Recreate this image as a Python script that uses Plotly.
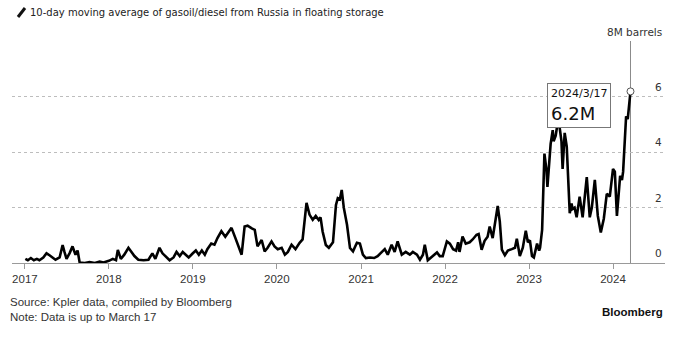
import plotly.graph_objects as go

# 10-day moving average of Russian gasoil/diesel held in floating storage (million barrels)
dates = [
    "2017-01-03", "2017-01-14", "2017-01-27", "2017-02-09", "2017-02-22", "2017-03-05",
    "2017-03-22", "2017-04-05", "2017-04-18", "2017-05-01", "2017-05-14", "2017-06-01",
    "2017-06-14", "2017-06-22", "2017-07-01", "2017-07-14", "2017-07-27", "2017-08-09",
    "2017-08-18", "2017-08-27", "2017-09-18", "2017-10-09", "2017-11-01", "2017-11-22",
    "2017-12-09",
    "2018-01-01", "2018-01-18", "2018-02-01", "2018-02-09", "2018-02-22", "2018-03-09",
    "2018-03-27", "2018-04-09", "2018-04-22", "2018-05-09", "2018-06-01", "2018-06-22",
    "2018-07-09", "2018-07-22", "2018-08-09", "2018-08-22", "2018-09-05", "2018-09-22",
    "2018-10-09", "2018-10-22", "2018-11-05", "2018-11-18", "2018-12-01", "2018-12-14",
    "2019-01-01", "2019-01-14", "2019-01-27", "2019-02-09", "2019-02-22", "2019-03-05",
    "2019-03-22", "2019-04-05", "2019-04-18", "2019-05-05", "2019-05-22", "2019-06-05",
    "2019-06-18", "2019-07-05", "2019-07-18", "2019-08-01", "2019-08-14", "2019-08-27",
    "2019-09-14", "2019-09-27", "2019-10-09", "2019-10-27", "2019-11-09", "2019-11-22",
    "2019-12-09", "2019-12-22",
    "2020-01-05", "2020-01-22", "2020-02-05", "2020-02-18", "2020-03-05", "2020-03-22",
    "2020-04-09", "2020-04-22", "2020-05-09", "2020-05-22", "2020-06-05", "2020-06-18",
    "2020-07-01", "2020-07-09", "2020-07-18", "2020-08-01", "2020-08-14", "2020-09-01",
    "2020-09-14", "2020-09-22", "2020-10-01", "2020-10-09", "2020-10-18", "2020-11-01",
    "2020-11-14", "2020-11-27", "2020-12-14", "2020-12-27",
    "2021-01-09", "2021-01-22", "2021-02-09", "2021-02-27", "2021-03-14", "2021-03-27",
    "2021-04-14", "2021-04-27", "2021-05-14", "2021-05-27", "2021-06-09", "2021-06-27",
    "2021-07-14", "2021-08-01", "2021-08-14", "2021-09-01", "2021-09-14", "2021-09-27",
    "2021-10-05", "2021-10-18", "2021-11-09", "2021-11-27", "2021-12-09", "2021-12-22",
    "2022-01-09", "2022-01-22", "2022-02-05", "2022-02-18", "2022-02-27", "2022-03-05",
    "2022-03-18", "2022-04-01", "2022-04-18", "2022-05-01", "2022-05-18", "2022-05-27",
    "2022-06-09", "2022-06-22", "2022-07-05", "2022-07-14", "2022-07-27", "2022-08-05",
    "2022-08-18", "2022-08-27", "2022-09-05", "2022-09-18", "2022-10-01", "2022-10-18",
    "2022-11-01", "2022-11-09", "2022-11-22", "2022-12-05", "2022-12-18", "2022-12-27",
    "2023-01-05", "2023-01-14", "2023-01-22", "2023-02-05", "2023-02-14", "2023-02-18",
    "2023-02-27", "2023-03-09", "2023-03-18", "2023-03-22", "2023-04-05", "2023-04-14",
    "2023-04-18", "2023-04-27", "2023-05-05", "2023-05-14", "2023-05-22", "2023-05-27",
    "2023-06-05", "2023-06-14", "2023-06-22", "2023-06-27", "2023-07-05", "2023-07-09",
    "2023-07-18", "2023-07-27", "2023-08-09", "2023-08-22", "2023-09-09", "2023-09-22",
    "2023-10-01", "2023-10-14", "2023-10-27", "2023-11-09", "2023-11-22", "2023-12-05",
    "2023-12-18",
    "2024-01-01", "2024-01-09", "2024-01-18", "2024-02-01", "2024-02-09", "2024-02-14",
    "2024-02-22", "2024-02-27", "2024-03-05", "2024-03-10", "2024-03-17",
]
values = [
    0.15, 0.10, 0.18, 0.10, 0.15, 0.10,
    0.20, 0.35, 0.28, 0.20, 0.12, 0.20,
    0.65, 0.40, 0.15, 0.35, 0.60, 0.30,
    0.45, 0.02, 0.00, 0.03, 0.00, 0.05,
    0.02,
    0.08, 0.15, 0.10, 0.47, 0.15, 0.30,
    0.55, 0.40, 0.25, 0.12, 0.10, 0.12,
    0.35, 0.15, 0.55, 0.35, 0.25, 0.10,
    0.20, 0.40, 0.25, 0.40, 0.30, 0.20,
    0.35, 0.45, 0.30, 0.45, 0.30, 0.50,
    0.70, 0.66, 0.90, 1.15, 0.95, 1.10,
    1.27, 0.90, 0.60, 0.30, 1.32, 1.35,
    1.25, 1.20, 0.60, 0.83, 0.42, 0.55,
    0.78, 0.60,
    0.50, 0.55, 0.30, 0.40, 0.66, 0.50,
    0.73, 0.85, 2.17, 1.75, 1.56, 1.70,
    1.55, 1.65, 1.14, 0.65, 0.55, 0.75,
    2.10, 2.34, 2.30, 2.64, 2.00, 1.38,
    0.54, 0.42, 0.73, 0.70,
    0.30, 0.18, 0.20, 0.18, 0.25, 0.35,
    0.50, 0.30, 0.66, 0.40, 0.78, 0.30,
    0.40, 0.30, 0.40, 0.30, 0.12, 0.30,
    0.66, 0.10, 0.25, 0.38, 0.25, 0.25,
    0.78, 0.70, 0.50, 0.45, 0.75, 0.40,
    0.96, 0.70, 0.75, 0.85, 1.02, 1.05,
    0.48, 0.80, 0.95, 1.32, 0.90, 1.40,
    2.06, 1.50, 0.48, 0.28, 0.45, 0.50,
    0.55, 0.88, 0.25, 0.55, 1.17, 0.75,
    0.82, 0.25, 0.20, 0.70, 0.45, 0.55,
    1.20, 3.95, 3.35, 2.75, 4.30, 4.80,
    4.40, 4.60, 5.05, 4.90, 4.40, 3.40,
    4.70, 4.20, 3.00, 1.80, 2.15, 1.95,
    2.00, 1.65, 2.40, 1.65, 3.10, 1.65,
    2.00, 3.00, 1.70, 1.10, 1.60, 2.50,
    2.40,
    3.40, 3.30, 1.70, 3.15, 3.00, 3.30,
    4.55, 5.30, 5.20, 5.60, 6.20,
]

year_ticks = ["2017-01-01", "2018-01-01", "2019-01-01", "2020-01-01",
              "2021-01-01", "2022-01-01", "2023-01-01", "2024-01-01"]
year_labels = ["2017", "2018", "2019", "2020", "2021", "2022", "2023", "2024"]

y_ticks = [0, 2, 4, 6, 8]
y_labels = ["0", "2", "4", "6", "8M barrels"]

title_text = "10-day moving average of gasoil/diesel from Russia in floating storage"
source_text = "Source: Kpler data, compiled by Bloomberg"
note_text = "Note: Data is up to March 17"

last_date = dates[-1]
last_value = values[-1]
yy, mm, dd = last_date.split("-")
callout_date = f"{int(yy)}/{int(mm)}/{int(dd)}"
callout_value = f"{last_value:.1f}M"

W, H = 682, 337
L, R, T, B = 12, 17, 41, 74
PW, PH = W - L - R, H - T - B


def px_x(px):
    return (px - L) / PW


def px_y(py):
    return (H - B - py) / PH


fig = go.Figure()

fig.add_trace(go.Scatter(
    x=dates, y=values, mode="lines",
    line=dict(color="#000000", width=2.6),
    hoverinfo="skip", showlegend=False,
))

# marker on the latest reading
fig.add_trace(go.Scatter(
    x=[last_date], y=[last_value], mode="markers",
    marker=dict(size=7, color="white", line=dict(color="#555555", width=1)),
    hoverinfo="skip", showlegend=False,
))

grey_text = "#333333"
sans = "DejaVu Sans, Verdana, sans-serif"
arial = "Liberation Sans, Arial, sans-serif"

fig.update_layout(
    width=W, height=H,
    margin=dict(l=L, r=R, t=T, b=B, pad=0),
    paper_bgcolor="white", plot_bgcolor="white",
    xaxis=dict(
        type="date",
        range=["2016-11-06", "2024-08-14"],
        tickmode="array", tickvals=year_ticks, ticktext=year_labels,
        ticks="outside", ticklen=5, tickcolor="#9a9a9a", tickwidth=1,
        showline=True, linecolor="#9a9a9a", linewidth=1,
        showgrid=False, zeroline=False,
        tickfont=dict(family=arial, size=11.5, color=grey_text),
    ),
    yaxis=dict(
        range=[0, 8.02],
        side="right",
        tickmode="array", tickvals=y_ticks[1:],
        showticklabels=False,
        ticks="", showline=False, zeroline=False,
        showgrid=True, gridcolor="#bdbdbd", griddash="dot", gridwidth=1,
    ),
)

# y labels sit just above their gridlines at the right edge
for v, lab in zip(y_ticks, y_labels):
    fig.add_annotation(
        xref="paper", yref="y", x=1, y=v,
        xanchor="right", yanchor="bottom", xshift=-1, yshift=2,
        showarrow=False, text=lab,
        font=dict(family=sans, size=10.5, color=grey_text),
    )

# vertical marker line at the latest date
fig.add_shape(type="line", xref="x", yref="paper",
              x0=last_date, x1=last_date, y0=0, y1=1,
              line=dict(color="#8a8a8a", width=1), layer="below")

# callout box for the latest value
fig.add_annotation(
    xref="x", yref="y", x=last_date, y=5.7,
    xanchor="right", yanchor="middle", xshift=-19,
    showarrow=False, align="left",
    text=f"<span style='font-size:11px'>{callout_date}</span><br>{callout_value}",
    font=dict(family=sans, size=18, color="#111111"),
    bgcolor="white", bordercolor="#777777", borderwidth=1, borderpad=3,
)

# title with pencil mark
fig.add_shape(type="line", xref="paper", yref="paper",
              x0=px_x(18), x1=px_x(25), y0=px_y(17), y1=px_y(8),
              line=dict(color="#111111", width=3))
fig.add_annotation(
    xref="paper", yref="paper", x=px_x(29), y=px_y(12),
    xanchor="left", yanchor="middle", showarrow=False, borderpad=0,
    text=title_text,
    font=dict(family=sans, size=10, color="#222222"),
)

# footer
foot_font = dict(family=arial, size=11.5, color=grey_text)
fig.add_annotation(
    xref="paper", yref="paper", x=px_x(9), y=px_y(302),
    xanchor="left", yanchor="middle", showarrow=False, borderpad=0,
    text=source_text, font=foot_font,
)
fig.add_annotation(
    xref="paper", yref="paper", x=px_x(9), y=px_y(317),
    xanchor="left", yanchor="middle", showarrow=False, borderpad=0,
    text=note_text, font=foot_font,
)
fig.add_annotation(
    xref="paper", yref="paper", x=px_x(664), y=px_y(312),
    xanchor="right", yanchor="middle", showarrow=False, borderpad=0,
    text="<b>Bloomberg</b>",
    font=dict(family=arial, size=11.5, color="#111111"),
)

fig.write_html("out.html", config={"displayModeBar": False})
